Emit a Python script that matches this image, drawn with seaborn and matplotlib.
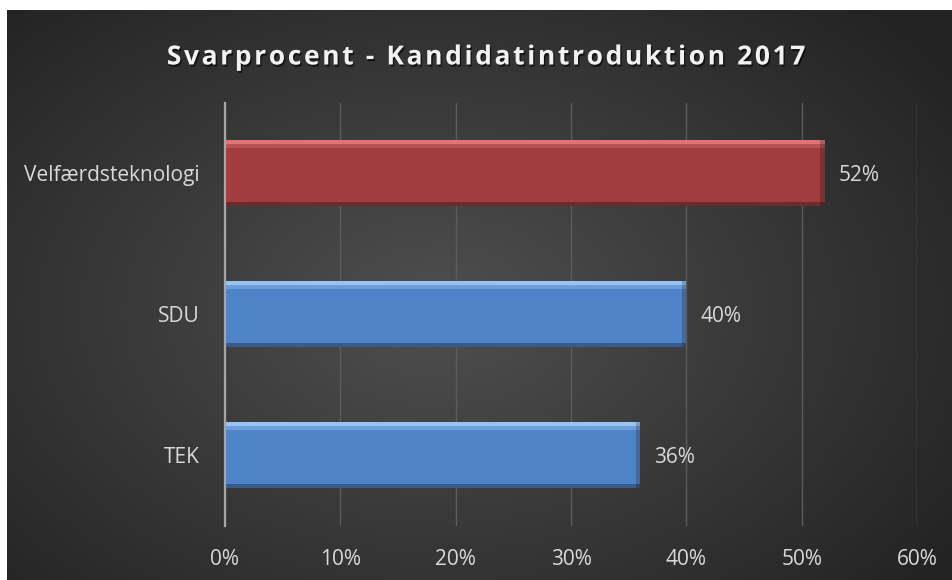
import numpy as np
import pandas as pd
import matplotlib.pyplot as plt
import matplotlib.patheffects as pe
from matplotlib.patches import Rectangle
import seaborn as sns

# data
programmes = ["Velfærdsteknologi", "SDU", "TEK"]
response_rate = [0.52, 0.40, 0.36]
bar_colors = ["#a13d3d", "#4f84c9", "#4f84c9"]
light_colors = ["#e88080", "#a8d0f8", "#a8d0f8"]
xticks = [0, 0.1, 0.2, 0.3, 0.4, 0.5, 0.6]
title = "Svarprocent - Kandidatintroduktion 2017"

df = pd.DataFrame({"programme": programmes, "rate": response_rate})

sns.set_theme(style="dark")
plt.rcParams["font.family"] = ["Open Sans", "DejaVu Sans"]

fig = plt.figure(figsize=(9.53, 5.8), dpi=100)
fig.patch.set_facecolor("white")

# dark radial background
bg = fig.add_axes([7 / 953, 0, 946 / 953, 570 / 580])
yy, xx = np.mgrid[0:570, 0:946]
r = np.sqrt(((xx - 430) / 620.0) ** 2 + ((yy - 300) / 420.0) ** 2)
shade = np.clip(0.31 - 0.17 * r, 0.14, 0.31)
bg.imshow(np.dstack([shade, shade, shade]), aspect="auto", extent=[0, 1, 0, 1])
bg.set_axis_off()

ax = fig.add_axes([225 / 953, 1 - 525.5 / 580, 692 / 953, 423 / 580])
ax.patch.set_alpha(0)

sns.barplot(data=df, x="rate", y="programme", hue="programme",
            palette=bar_colors, saturation=1, orient="h", width=0.475, legend=False,
            edgecolor="none", ax=ax, zorder=3)

# simple bevel: light strip on top, dark strip on bottom
for p, lc in zip(ax.patches, light_colors):
    x0, y0, w, h = p.get_x(), p.get_y(), p.get_width(), p.get_height()
    ax.add_patch(Rectangle((x0, y0), w, h * 0.06, color=lc, alpha=0.85, zorder=4, lw=0))
    ax.add_patch(Rectangle((x0, y0 + h * 0.06), w, h * 0.06, color=lc, alpha=0.35, zorder=4, lw=0))
    ax.add_patch(Rectangle((x0, y0 + h * 0.93), w, h * 0.07, color="black", alpha=0.3, zorder=4, lw=0))
    ax.add_patch(Rectangle((x0 + w - 0.004, y0), 0.004, h, color="black", alpha=0.2, zorder=4, lw=0))

ax.set_xlim(0, 0.6)
ax.set_ylim(2.5, -0.5)
ax.set_xticks(xticks)
ax.set_xticklabels([f"{int(round(t * 100))}%" for t in xticks])
ax.xaxis.grid(True, color="#5c5c5c", linewidth=1)
ax.yaxis.grid(False)
ax.set_axisbelow(True)
for s in ["top", "right", "bottom"]:
    ax.spines[s].set_visible(False)
ax.spines["left"].set_color("#a6a6a6")
ax.spines["left"].set_linewidth(1.6)
ax.spines["left"].set_zorder(5)
ax.tick_params(axis="x", colors="#d9d9d9", labelsize=15, length=0, pad=17)
ax.tick_params(axis="y", colors="#d9d9d9", labelsize=15, length=0, pad=18)
ax.set_xlabel("")
ax.set_ylabel("")

for i, v in enumerate(response_rate):
    ax.text(v + 0.012, i + 0.02, f"{int(round(v * 100))}%", color="#d9d9d9",
            fontsize=15, va="center", ha="left")

# letter-spaced title
spaced = "\u200a".join(title)
fig.text(485 / 953, 1 - 57 / 580, spaced,
         color="#f2f2f2", fontsize=19, fontweight="bold", ha="center", va="center",
         path_effects=[pe.withSimplePatchShadow(offset=(1, -1.5), shadow_rgbFace="black", alpha=0.6)])

plt.savefig("out.png", dpi=100)
